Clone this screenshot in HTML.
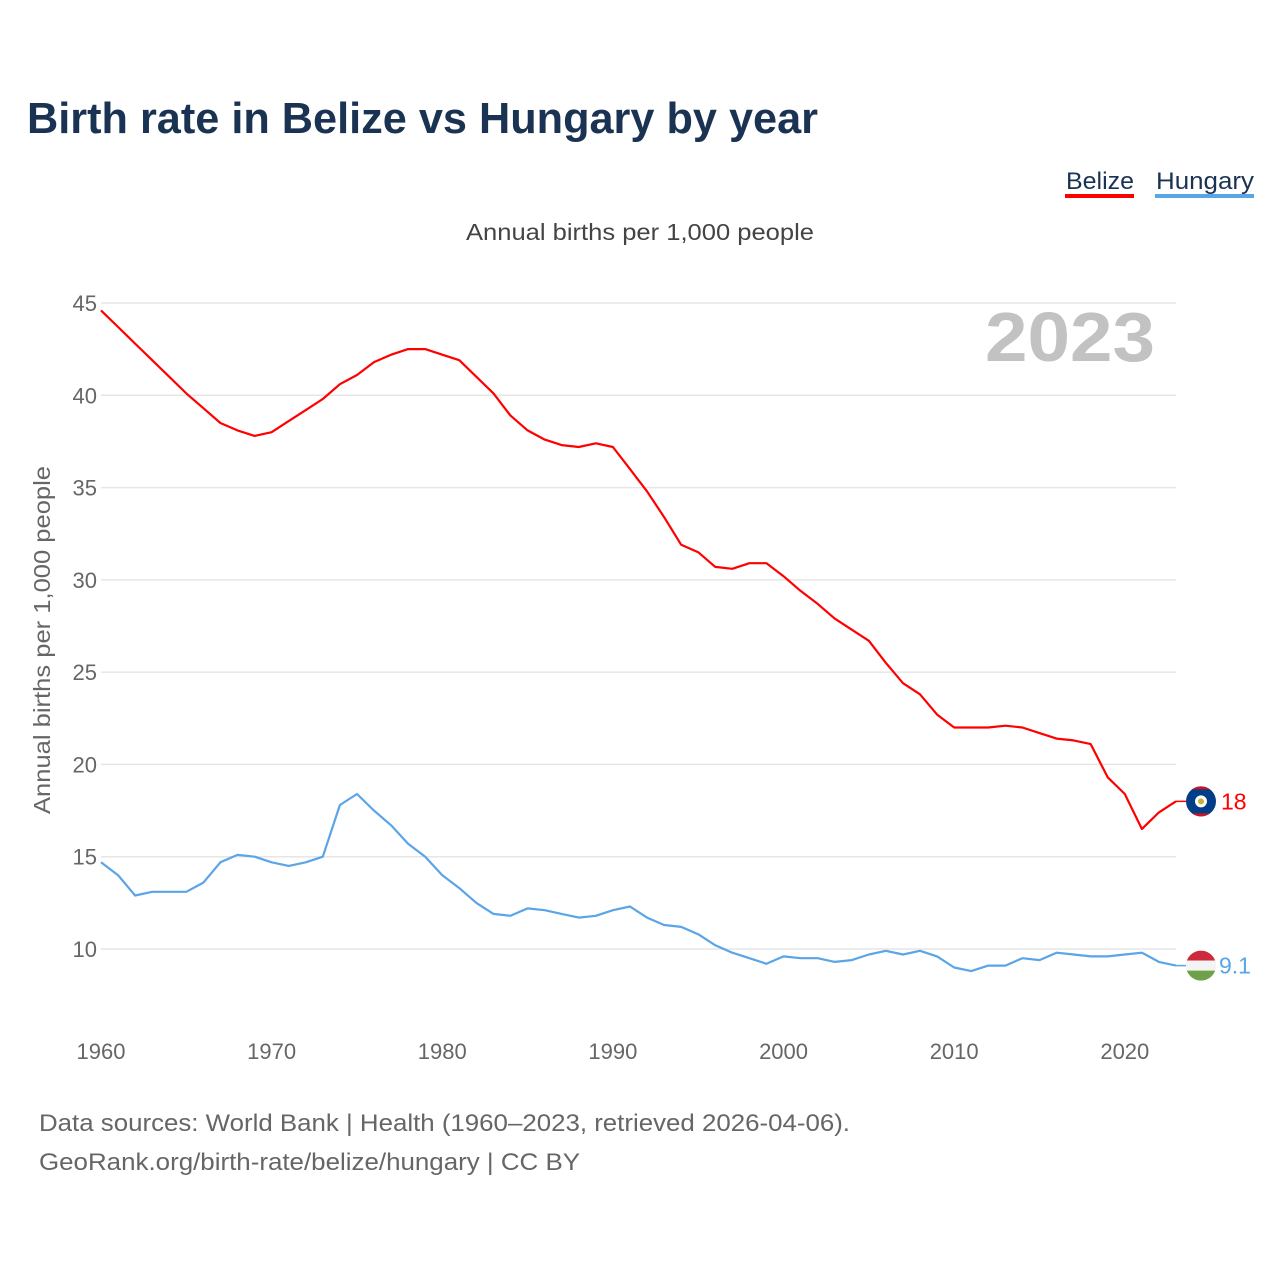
<!DOCTYPE html>
<html><head><meta charset="utf-8"><style>
html,body{margin:0;padding:0;background:#fff;}
svg text{font-family:"Liberation Sans",sans-serif;}
</style></head><body>
<svg id="chart" width="1280" height="1280" viewBox="0 0 1280 1280" xmlns="http://www.w3.org/2000/svg">
<text x="27" y="133" font-size="44" font-weight="bold" fill="#1b3353" textLength="791" lengthAdjust="spacingAndGlyphs">Birth rate in Belize vs Hungary by year</text>
<g>
 <text x="1066" y="189" font-size="24" fill="#1b3353" textLength="68" lengthAdjust="spacingAndGlyphs">Belize</text>
 <rect x="1065" y="194" width="69" height="4" fill="#ff0000"/>
 <text x="1156" y="189" font-size="24" fill="#1b3353" textLength="98" lengthAdjust="spacingAndGlyphs">Hungary</text>
 <rect x="1155" y="194" width="99" height="4" fill="#5aa4e8"/>
</g>
<text x="640" y="240" font-size="23" fill="#444" text-anchor="middle" textLength="348" lengthAdjust="spacingAndGlyphs">Annual births per 1,000 people</text>
<text transform="translate(50,640) rotate(-90)" font-size="23" fill="#666" text-anchor="middle" textLength="348" lengthAdjust="spacingAndGlyphs">Annual births per 1,000 people</text>
<text x="1155" y="361" font-size="70" font-weight="bold" fill="#c2c2c2" text-anchor="end" textLength="170" lengthAdjust="spacingAndGlyphs">2023</text>
<g id="grid"></g><g id="yticks"></g><g id="xticks"></g><g id="lines"></g><g id="ends"></g>
<text x="39" y="1131" font-size="24" fill="#666" textLength="811" lengthAdjust="spacingAndGlyphs">Data sources: World Bank | Health (1960–2023, retrieved 2026-04-06).</text>
<text x="39" y="1170" font-size="24" fill="#666" textLength="541" lengthAdjust="spacingAndGlyphs">GeoRank.org/birth-rate/belize/hungary | CC BY</text>
</svg>
<script>
const years = [];
for (let y = 1960; y <= 2023; y++) years.push(y);
const belize = [44.6,43.7,42.8,41.9,41.0,40.1,39.3,38.5,38.1,37.8,38.0,38.6,39.2,39.8,40.6,41.1,41.8,42.2,42.5,42.5,42.2,41.9,41.0,40.1,38.9,38.1,37.6,37.3,37.2,37.4,37.2,36.0,34.8,33.4,31.9,31.5,30.7,30.6,30.9,30.9,30.2,29.4,28.7,27.9,27.3,26.7,25.5,24.4,23.8,22.7,22.0,22.0,22.0,22.1,22.0,21.7,21.4,21.3,21.1,19.3,18.4,16.5,17.4,18.0];
const hungary = [14.7,14.0,12.9,13.1,13.1,13.1,13.6,14.7,15.1,15.0,14.7,14.5,14.7,15.0,17.8,18.4,17.5,16.7,15.7,15.0,14.0,13.3,12.5,11.9,11.8,12.2,12.1,11.9,11.7,11.8,12.1,12.3,11.7,11.3,11.2,10.8,10.2,9.8,9.5,9.2,9.6,9.5,9.5,9.3,9.4,9.7,9.9,9.7,9.9,9.6,9.0,8.8,9.1,9.1,9.5,9.4,9.8,9.7,9.6,9.6,9.7,9.8,9.3,9.1];
const yTicks = [10,15,20,25,30,35,40,45];
const xTicks = [1960,1970,1980,1990,2000,2010,2020];
const endLabels = ["18","9.1"];

const NS = "http://www.w3.org/2000/svg";
const X0 = 101, X1 = 1176, Y10 = 949, Y45 = 303;
function xs(yr){ return X0 + (yr - 1960) * (X1 - X0) / (2023 - 1960); }
function ys(v){ return Y10 - (v - 10) * (Y10 - Y45) / 35; }
function mk(tag, attrs, parent){ const e = document.createElementNS(NS, tag); for (const k in attrs) e.setAttribute(k, attrs[k]); parent.appendChild(e); return e; }

const grid = document.getElementById('grid'), yt = document.getElementById('yticks'), xt = document.getElementById('xticks');
yTicks.forEach(v => {
  const l = mk('line', {x1: X0, x2: X1, y1: ys(v), y2: ys(v), stroke: '#e6e6e6', 'stroke-width': 1.5}, grid);
  
  
  const t = mk('text', {x: 97, y: ys(v) + 8, 'font-size': 22, fill: '#666', 'text-anchor': 'end'}, yt);
  
  
  t.textContent = v;
});
xTicks.forEach(v => {
  const t = mk('text', {x: xs(v), y: 1059, 'font-size': 22, fill: '#666', 'text-anchor': 'middle'}, xt);
  
  
  t.textContent = v;
});
const lines = document.getElementById('lines');
function path(vals){ return vals.map((v, i) => (i ? 'L' : 'M') + xs(years[i]).toFixed(1) + ',' + ys(v).toFixed(1)).join(' '); }
const pb = mk('path', {d: path(belize), fill: 'none', stroke: '#ff0000', 'stroke-width': 2.2, 'stroke-linejoin': 'round'}, lines);


const ph = mk('path', {d: path(hungary), fill: 'none', stroke: '#5aa4e8', 'stroke-width': 2.2, 'stroke-linejoin': 'round'}, lines);



const ends = document.getElementById('ends');
const fx = 1201;
// Belize flag
const by = ys(belize[belize.length - 1]);
const bl = mk('line', {x1: X1, x2: fx - 15, y1: by, y2: by, stroke: '#ff0000', 'stroke-width': 1.5}, ends);


const bf = mk('g', {}, ends);


mk('circle', {cx: fx, cy: by, r: 15, fill: '#003f87'}, bf);
mk('path', {d: `M${fx-9},${by-12} A15,15 0 0 1 ${fx+9},${by-12} Z`, fill: '#ce1126'}, bf);
mk('path', {d: `M${fx-9},${by+12} A15,15 0 0 0 ${fx+9},${by+12} Z`, fill: '#ce1126'}, bf);
mk('circle', {cx: fx, cy: by, r: 6, fill: '#fff'}, bf);
mk('circle', {cx: fx, cy: by, r: 3, fill: '#c9b036'}, bf);
const bt = mk('text', {x: 1221, y: by + 8, 'font-size': 23, fill: '#ff0000'}, ends);


bt.textContent = endLabels[0];
// Hungary flag
const hy = ys(hungary[hungary.length - 1]);
const hl = mk('line', {x1: X1, x2: fx - 15, y1: hy, y2: hy, stroke: '#5aa4e8', 'stroke-width': 1.5}, ends);


const hf = mk('g', {}, ends);


mk('clipPath', {id: 'hc'}, hf).appendChild(document.createElementNS(NS, 'circle'));
const cc = hf.querySelector('clipPath circle'); cc.setAttribute('cx', fx); cc.setAttribute('cy', hy); cc.setAttribute('r', 15);
mk('rect', {x: fx-15, y: hy-15, width: 30, height: 10, fill: '#cd2a3e', 'clip-path': 'url(#hc)'}, hf);
mk('rect', {x: fx-15, y: hy-5, width: 30, height: 10, fill: '#f4f4f4', 'clip-path': 'url(#hc)'}, hf);
mk('rect', {x: fx-15, y: hy+5, width: 30, height: 10, fill: '#6fa04a', 'clip-path': 'url(#hc)'}, hf);
const ht = mk('text', {x: 1219, y: hy + 8, 'font-size': 23, fill: '#5aa4e8'}, ends);


ht.textContent = endLabels[1];
</script>
</body></html>
